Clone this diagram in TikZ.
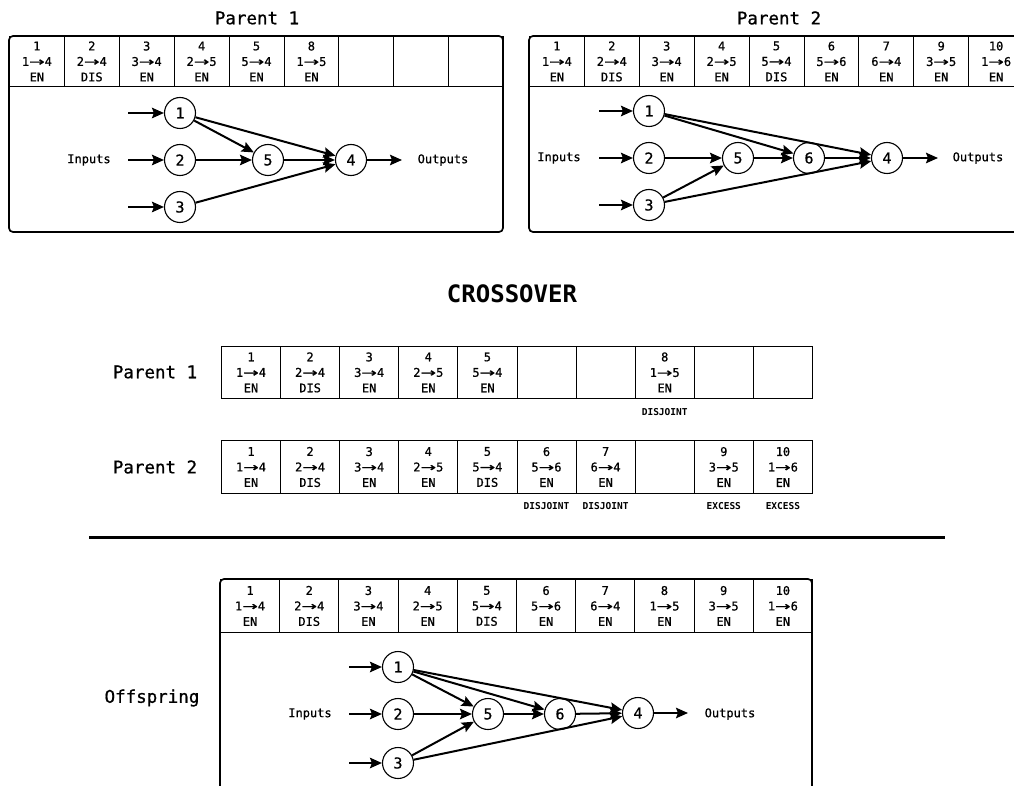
\documentclass[tikz,border=0pt]{standalone}
\usepackage{fontspec}
\setmainfont{DejaVu Sans Mono}[FakeBold=0.8]
\newfontfamily\arrowfont{DejaVu Sans}[FakeBold=0.8]
\newfontfamily\heavyfont{DejaVu Sans Mono Bold}
\usetikzlibrary{arrows.meta}
% stretched arrow used inside the gene cells
\newcommand{\ga}{\scalebox{1.55}[1]{\arrowfont →}}

\tikzset{
  title/.style={font=\fontsize{17.5}{20}\selectfont},
  bigtitle/.style={font=\heavyfont\fontsize{24}{28}\selectfont},
  cellbox/.style={draw, line width=0.9pt, inner sep=0pt, anchor=north west},
  genetext/.style={align=center, inner sep=0pt, font=\fontsize{12}{15.5}\selectfont},
  frame/.style={draw, line width=1.7pt, rounded corners=4pt},
  neuron/.style={circle, draw, line width=1.1pt, minimum size=31pt, inner sep=0pt,
                 font=\fontsize{15}{16}\selectfont},
  link/.style={line width=2pt, -{Stealth[length=12pt,width=10.5pt,inset=2pt]}},
  io/.style={font=\fontsize{12}{14}\selectfont},
  tag/.style={font=\heavyfont\fontsize{9.5}{12}\selectfont},
}

\begin{document}
\begin{tikzpicture}[x=1pt,y=-1pt]
\clip (0,0) rectangle (1014,786);
\fill[white] (0,0) rectangle (1014,786);

% ---------------- Parent 1 genome and network ----------------
\node[title] (t1) at (257,18) {Parent 1};
\foreach \i in {1,...,9}
  \node[cellbox, minimum width=54.9pt, minimum height=50pt] (a\i) at ({9+(\i-1)*54.9},36) {};
\foreach \i/\gn/\gc/\gs in {1/1/1\ga4/EN, 2/2/2\ga4/DIS, 3/3/3\ga4/EN, 4/4/2\ga5/EN,
                            5/5/5\ga4/EN, 6/8/1\ga5/EN}
  \node[genetext] (at\i) at (a\i) {\gn\\\gc\\\gs};
\draw[frame] (9,36) rectangle (503,232);

\node[neuron] (p1n1) at (180,113) {1};
\node[neuron] (p1n2) at (180,160) {2};
\node[neuron] (p1n3) at (180,207) {3};
\node[neuron] (p1n5) at (268,160) {5};
\node[neuron] (p1n4) at (351,160) {4};
\node[io] (p1in) at (89,160) {Inputs};
\node[io] (p1out) at (443,160) {Outputs};
\coordinate (p1i1) at (128,113);
\coordinate (p1i2) at (128,160);
\coordinate (p1i3) at (128,207);
\coordinate (p1o) at (402,160);
\draw[link] (p1i1) -- (p1n1);
\draw[link] (p1i2) -- (p1n2);
\draw[link] (p1i3) -- (p1n3);
\draw[link] (p1n1) -- (p1n4);
\draw[link] (p1n1) -- (p1n5);
\draw[link] (p1n2) -- (p1n5);
\draw[link] (p1n5) -- (p1n4);
\draw[link] (p1n3) -- (p1n4);
\draw[link] (p1n4) -- (p1o);

% ---------------- Parent 2 genome and network ----------------
\node[title] (t2) at (779,18) {Parent 2};
\foreach \i in {1,...,9}
  \node[cellbox, minimum width=54.9pt, minimum height=50pt] (b\i) at ({529+(\i-1)*54.9},36) {};
\foreach \i/\gn/\gc/\gs in {1/1/1\ga4/EN, 2/2/2\ga4/DIS, 3/3/3\ga4/EN, 4/4/2\ga5/EN,
                            5/5/5\ga4/DIS, 6/6/5\ga6/EN, 7/7/6\ga4/EN, 8/9/3\ga5/EN,
                            9/10/1\ga6/EN}
  \node[genetext] (bt\i) at (b\i) {\gn\\\gc\\\gs};
\draw[frame] (529,36) rectangle (1024,232);

\node[neuron] (p2n1) at (649,111) {1};
\node[neuron] (p2n2) at (649,158) {2};
\node[neuron] (p2n3) at (649,205) {3};
\node[neuron] (p2n5) at (738,158) {5};
\node[neuron] (p2n6) at (809,158) {6};
\node[neuron] (p2n4) at (887,158) {4};
\node[io] (p2in) at (559,158) {Inputs};
\node[io] (p2out) at (978,158) {Outputs};
\coordinate (p2i1) at (599,111);
\coordinate (p2i2) at (599,158);
\coordinate (p2i3) at (599,205);
\coordinate (p2o) at (938,158);
\draw[link] (p2i1) -- (p2n1);
\draw[link] (p2i2) -- (p2n2);
\draw[link] (p2i3) -- (p2n3);
\draw[link] (p2n1) -- (p2n4);
\draw[link] (p2n1) -- (p2n6);
\draw[link] (p2n2) -- (p2n5);
\draw[link] (p2n5) -- (p2n6);
\draw[link] (p2n6) -- (p2n4);
\draw[link] (p2n3) -- (p2n5);
\draw[link] (p2n3) -- (p2n4);
\draw[link] (p2n4) -- (p2o);

% ---------------- Crossover alignment ----------------
\node[bigtitle] (cx) at (512,294) {CROSSOVER};

\node[title] (l1) at (155,372) {Parent 1};
\foreach \i in {1,...,10}
  \node[cellbox, minimum width=59.1pt, minimum height=52.5pt] (r\i) at ({221+(\i-1)*59.1},345.7) {};
\foreach \i/\gn/\gc/\gs in {1/1/1\ga4/EN, 2/2/2\ga4/DIS, 3/3/3\ga4/EN, 4/4/2\ga5/EN,
                            5/5/5\ga4/EN, 8/8/1\ga5/EN}
  \node[genetext] (rt\i) at (r\i) {\gn\\\gc\\\gs};
\node[tag] (d8) at (r8 |- 0,412) {DISJOINT};

\node[title] (l2) at (155,467) {Parent 2};
\foreach \i in {1,...,10}
  \node[cellbox, minimum width=59.1pt, minimum height=52.5pt] (s\i) at ({221+(\i-1)*59.1},440.3) {};
\foreach \i/\gn/\gc/\gs in {1/1/1\ga4/EN, 2/2/2\ga4/DIS, 3/3/3\ga4/EN, 4/4/2\ga5/EN,
                            5/5/5\ga4/DIS, 6/6/5\ga6/EN, 7/7/6\ga4/EN, 9/9/3\ga5/EN,
                            10/10/1\ga6/EN}
  \node[genetext] (st\i) at (s\i) {\gn\\\gc\\\gs};
\node[tag] (e6) at (s6 |- 0,506) {DISJOINT};
\node[tag] (e7) at (s7 |- 0,506) {DISJOINT};
\node[tag] (e9) at (s9 |- 0,506) {EXCESS};
\node[tag] (e10) at (s10 |- 0,506) {EXCESS};

% separator rule
\coordinate (rule-l) at (89,537);
\coordinate (rule-r) at (945,537);
\draw[line width=3pt] (rule-l) -- (rule-r);

% ---------------- Offspring genome and network ----------------
\node[title] (l3) at (152,698) {Offspring};
\foreach \i in {1,...,10}
  \node[cellbox, minimum width=59.2pt, minimum height=53pt] (o\i) at ({220+(\i-1)*59.2},579) {};
\foreach \i/\gn/\gc/\gs in {1/1/1\ga4/EN, 2/2/2\ga4/DIS, 3/3/3\ga4/EN, 4/4/2\ga5/EN,
                            5/5/5\ga4/DIS, 6/6/5\ga6/EN, 7/7/6\ga4/EN, 8/8/1\ga5/EN,
                            9/9/3\ga5/EN, 10/10/1\ga6/EN}
  \node[genetext] (ot\i) at (o\i) {\gn\\\gc\\\gs};
\draw[frame] (220,579) rectangle (812,820);

\node[neuron] (on1) at (398,667) {1};
\node[neuron] (on2) at (398,714) {2};
\node[neuron] (on3) at (398,763) {3};
\node[neuron] (on5) at (488,714) {5};
\node[neuron] (on6) at (560,714) {6};
\node[neuron] (on4) at (638,713) {4};
\node[io] (oin) at (310,714) {Inputs};
\node[io] (oout) at (730,714) {Outputs};
\coordinate (oi1) at (349,667);
\coordinate (oi2) at (349,714);
\coordinate (oi3) at (349,763);
\coordinate (oo) at (688,713);
\draw[link] (oi1) -- (on1);
\draw[link] (oi2) -- (on2);
\draw[link] (oi3) -- (on3);
\draw[link] (on1) -- (on4);
\draw[link] (on1) -- (on6);
\draw[link] (on1) -- (on5);
\draw[link] (on2) -- (on5);
\draw[link] (on5) -- (on6);
\draw[link] (on6) -- (on4);
\draw[link] (on3) -- (on5);
\draw[link] (on3) -- (on4);
\draw[link] (on4) -- (oo);
\end{tikzpicture}
\end{document}
